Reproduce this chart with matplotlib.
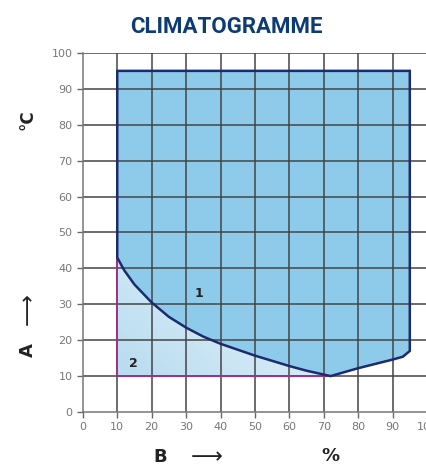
import numpy as np
import matplotlib
matplotlib.use("Agg")
import matplotlib.pyplot as plt
from matplotlib.patches import Polygon

# lower boundary of zone 1 (curve from x=10 down to the minimum)
curve_x = [10, 12, 15, 20, 25, 30, 35, 40, 50, 60, 65, 72]
curve_y = [43, 39.5, 35.5, 30.5, 26.5, 23.5, 21, 19, 15.7, 12.8, 11.5, 10]
# rising boundary on the right
right_x = [72, 80, 90, 93, 95]
right_y = [10, 12.2, 14.6, 15.4, 17]
top_y = 95
zone2_floor = 10

x_ticks = list(range(0, 101, 10))
y_ticks = list(range(0, 101, 10))

fig = plt.figure(figsize=(4.27, 4.70), dpi=100)
ax = fig.add_axes([0.194, 0.1234, 0.806, 0.764])
ax.set_xlim(0, 100)
ax.set_ylim(0, 100)

# zone 2 : gradient clipped to polygon
z2 = list(zip(curve_x, curve_y)) + [(curve_x[-1], zone2_floor), (curve_x[0], zone2_floor)]
poly2 = Polygon(z2, closed=True, facecolor="none", edgecolor="none")
ax.add_patch(poly2)
gx, gy = np.meshgrid(np.linspace(0, 1, 200), np.linspace(0, 1, 200))
g = np.clip(0.6 * gx + 0.4 * (1 - gy), 0, 1)
c0 = np.array([0.72, 0.86, 0.94])
c1 = np.array([0.93, 0.97, 0.99])
img = c0[None, None, :] * (1 - g[..., None]) + c1[None, None, :] * g[..., None]
im = ax.imshow(img, extent=[10, 72, 10, 43], origin="upper", aspect="auto", zorder=1)
im.set_clip_path(poly2)

# zone 2 magenta border (left and bottom)
ax.plot([curve_x[0], curve_x[0], curve_x[-1]], [curve_y[0], zone2_floor, zone2_floor],
        color="#a0308a", lw=1.4, zorder=3)

# zone 1
z1 = [(curve_x[0], top_y), (right_x[-1], top_y)] + list(zip(right_x[::-1], right_y[::-1])) \
     + list(zip(curve_x[::-1], curve_y[::-1]))
ax.add_patch(Polygon(z1, closed=True, facecolor="#8ecbea", edgecolor="none", zorder=1.5))
ax.add_patch(Polygon(z1, closed=True, facecolor="none", edgecolor="#1c2a6e", lw=1.8, zorder=4))

# grid
for v in x_ticks[1:-1]:
    ax.plot([v, v], [0, 100], color="#444444", lw=1.1, zorder=2)
for v in y_ticks[1:]:
    ax.plot([0, 100], [v, v], color="#444444", lw=1.1, zorder=2)

for s in ["top", "right"]:
    ax.spines[s].set_visible(False)
for s in ["left", "bottom"]:
    ax.spines[s].set_color("#777777")
    ax.spines[s].set_linewidth(1.1)
ax.set_xticks(x_ticks)
ax.set_yticks(y_ticks)
ax.tick_params(direction="out", length=4, width=1, color="#666666",
               labelcolor="#777777", labelsize=8)

ax.text(32.5, 32, "1", fontsize=9, fontweight="bold", color="#222222", zorder=5)
ax.text(13.5, 12.5, "2", fontsize=9, fontweight="bold", color="#222222", zorder=5)

fig.text(0.53, 0.943, "CLIMATOGRAMME", ha="center", va="center", fontsize=16,
         fontweight="bold", color="#0d3b73", family="Roboto")
fig.text(0.065, 0.745, "°C", ha="center", va="center", fontsize=12, fontweight="bold",
         rotation=90, color="#222222")
fig.text(0.065, 0.255, "A", ha="center", va="center", fontsize=13, fontweight="bold",
         rotation=90, color="#222222")
fig.text(0.065, 0.343, "\u27f6", ha="center", va="center", fontsize=16,
         rotation=90, color="#222222")
fig.text(0.375, 0.027, "B", ha="center", va="center", fontsize=13, fontweight="bold",
         color="#222222")
fig.text(0.485, 0.027, "\u27f6", ha="center", va="center", fontsize=16,
         color="#222222")
fig.text(0.775, 0.03, "%", ha="center", va="center", fontsize=13, fontweight="bold",
         color="#222222")

fig.savefig("out.png", dpi=100)
